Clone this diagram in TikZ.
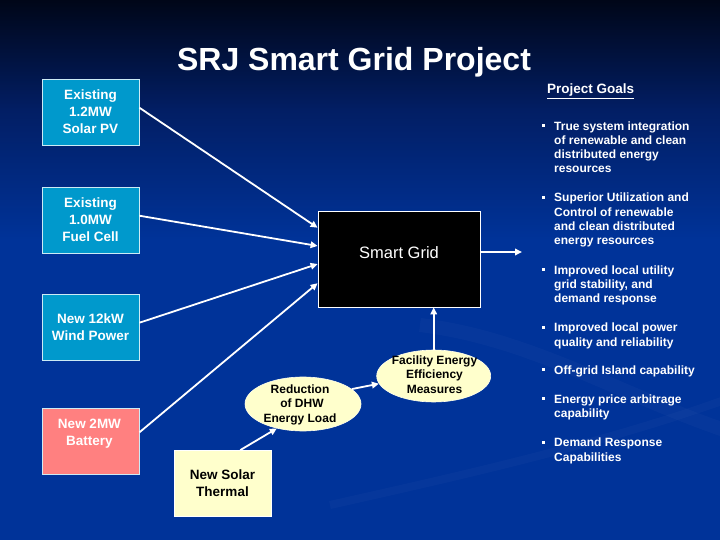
\documentclass[tikz,border=0pt]{standalone}
\usepackage{fontspec}
\setmainfont{Liberation Sans}
\usetikzlibrary{shapes.geometric,arrows.meta,calc}
\definecolor{bgtop}{RGB}{0,6,24}
\definecolor{bgmid}{RGB}{2,30,100}
\definecolor{bgblue}{RGB}{0,51,153}
\definecolor{boxcyan}{RGB}{0,153,204}
\definecolor{battred}{RGB}{255,128,128}
\definecolor{paleyel}{RGB}{255,255,204}
\begin{document}
\begin{tikzpicture}[x=1pt,y=-1pt,
  srcbox/.style={draw=white!80!boxcyan, line width=0.8pt, fill=boxcyan,
    minimum width=97pt, minimum height=66pt, inner sep=0pt, align=center,
    text=white, font=\fontsize{13.5}{17}\selectfont\bfseries},
  yelbox/.style={srcbox, fill=paleyel, draw=white, text=black},
  oval/.style={ellipse, fill=paleyel, draw=white!60!paleyel, line width=0.6pt, inner sep=0pt},
  ovaltext/.style={align=center, inner sep=0pt, text=black,
    font=\fontsize{12}{14.5}\selectfont\bfseries},
  conn/.style={draw=white, line width=1.8pt, -{Triangle[length=7pt,width=6.5pt]}},
  goal/.style={anchor=north west, align=left, inner sep=0pt, text=white,
    font=\fontsize{12}{14.2}\selectfont\bfseries},
  dot/.style={fill=white, minimum size=3pt, inner sep=0pt},
  swoosh/.style={draw=white, opacity=0.022}
]
\useasboundingbox (0,0) rectangle (720,540);
% background
\fill[bgblue] (0,0) rectangle (720,540);
\fill[top color=bgtop, bottom color=bgmid] (0,0) rectangle (720,110);
\fill[top color=bgmid, bottom color=bgblue] (0,109.5) rectangle (720,240);
\draw[swoosh, line width=14pt] (420,325) .. controls (530,338) and (620,395) .. (730,432);
\draw[swoosh, line width=8pt] (330,505) .. controls (450,478) and (600,445) .. (730,398);

% title
\node[anchor=base, text=white, font=\fontsize{32}{36}\selectfont\bfseries, inner sep=0pt]
  (title) at (354,70.7) {SRJ Smart Grid Project};

% sources
\node[srcbox] (pv) at (90.5,112) {Existing\\1.2MW\\Solar PV};
\node[srcbox] (fc) at (90.5,220) {Existing\\1.0MW\\Fuel Cell};
\node[srcbox] (wd) at (90.5,327) {New 12kW\\Wind Power};
\node[srcbox, fill=battred] (bt) at (90.5,441) {};
\node[align=center, inner sep=0pt, text=white, font=\fontsize{13.5}{17}\selectfont\bfseries]
  (bttxt) at (89.5,434) {New 2MW\\Battery};
\node[yelbox] (st) at (222.5,483.5) {New Solar\\Thermal};

% smart grid
\node[draw=white, line width=0.8pt, fill=black, minimum width=162pt, minimum height=96pt,
  inner sep=0pt, text depth=12pt, text=white, font=\fontsize{16.5}{20}\selectfont]
  (sg) at (399,259) {Smart Grid};

% ellipses
\node[oval, minimum width=116pt, minimum height=54pt] (red) at (303,404) {};
\node[ovaltext] (redtxt) at (300,404.5) {Reduction\\\hspace*{4pt}of DHW\\Energy Load};
\node[oval, minimum width=114pt, minimum height=52pt] (fac) at (433.7,376) {};
\node[ovaltext] (factxt) at (434.5,374.5) {Facility Energy\\Efficiency\\Measures};

% connectors
\draw[conn] (pv.5) -- ($(sg.north west)!0.177!(sg.south west)$);
\draw[conn] (fc.5) -- ($(sg.north west)!0.365!(sg.south west)$);
\draw[conn] (wd.5) -- ($(sg.north west)!0.552!(sg.south west)$);
\draw[conn] (bt.10) -- ($(sg.north west)!0.75!(sg.south west)$);
\coordinate (sgout) at (522,252);
\draw[conn] (sg.east |- sgout) -- (sgout);
\draw[conn] (fac.north) -- (fac.north |- sg.south);
\draw[conn] (red.17) -- (fac.188);
\draw[conn] (st.62) -- (red.223);

% project goals
\node[anchor=base west, inner sep=0pt, text=white, font=\fontsize{13.5}{16}\selectfont\bfseries]
  (pg) at (547,93.5) {\underline{Project Goals}};

\node[goal] (g1) at (554,121.3) {True system integration\\of renewable and clean\\distributed energy\\resources};
\node[goal] (g2) at (554,193) {Superior Utilization and\\Control of renewable\\and clean distributed\\energy resources};
\node[goal] (g3) at (554,265.3) {Improved local utility\\grid stability, and\\demand response};
\node[goal] (g4) at (554,323) {Improved local power\\quality and reliability};
\node[goal] (g5) at (554,365.3) {Off-grid Island capability};
\node[goal] (g6) at (554,394.3) {Energy price arbitrage\\capability};
\node[goal] (g7) at (554,438) {Demand Response\\Capabilities};

\node[dot] (d1) at (543,125.5) {};
\node[dot] (d2) at (543,197.2) {};
\node[dot] (d3) at (543,269.5) {};
\node[dot] (d4) at (543,327.2) {};
\node[dot] (d5) at (543,369.5) {};
\node[dot] (d6) at (543,398.5) {};
\node[dot] (d7) at (543,442.2) {};
\end{tikzpicture}
\end{document}
